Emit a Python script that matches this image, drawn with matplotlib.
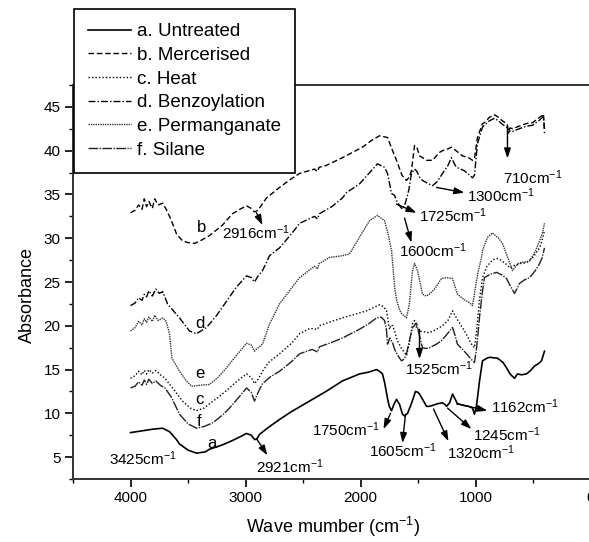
import matplotlib

matplotlib.use("Agg")

import matplotlib.pyplot as plt
from matplotlib.ticker import MultipleLocator

plt.rcParams["font.family"] = ["Liberation Sans", "DejaVu Sans"]
plt.rcParams["mathtext.fontset"] = "custom"
plt.rcParams["mathtext.rm"] = "Liberation Sans"
plt.rcParams["mathtext.it"] = "Liberation Sans:italic"

# --- spectra (wavenumber cm-1, absorbance) ---
wn_a = [4000, 3900, 3800, 3720, 3660, 3600, 3574, 3500, 3426, 3350, 3313, 3200, 3113, 3050,
        2991, 2950, 2921, 2900, 2878, 2800, 2704, 2600, 2443, 2300, 2157, 2009, 1930, 1861,
        1835, 1809, 1790, 1765, 1750, 1730, 1710, 1687, 1660, 1635, 1617, 1591, 1560, 1522,
        1500, 1487, 1460, 1426, 1400, 1374, 1330, 1287, 1265, 1252, 1225, 1200, 1180, 1157,
        1100, 1060, 1026, 1009, 990, 965, 939, 900, 878, 809, 760, 730, 700, 661, 635, 600,
        557, 520, 487, 450, 426, 400]
abs_a = [7.8, 8.0, 8.2, 8.3, 7.9, 7.0, 6.5, 5.8, 5.45, 5.6, 5.9, 6.4, 6.9, 7.3,
         7.7, 7.5, 7.0, 7.1, 7.6, 8.4, 9.3, 10.2, 11.4, 12.5, 13.7, 14.5, 14.7, 15.0,
         14.8, 14.5, 13.5, 11.7, 10.8, 10.3, 11.0, 11.6, 11.0, 9.9, 9.7, 10.0, 11.0, 12.5,
         12.4, 12.2, 11.6, 10.8, 10.8, 10.9, 11.1, 11.2, 11.0, 10.8, 11.2, 12.2, 11.7, 11.1,
         10.9, 10.8, 10.6, 9.9, 11.0, 13.7, 16.0, 16.3, 16.4, 16.3, 15.8, 15.2, 14.5, 14.0, 14.5, 14.4,
         14.5, 14.9, 15.4, 15.7, 16.0, 17.1]

wn_b = [4000, 3960, 3930, 3900, 3880, 3860, 3840, 3810, 3790, 3760, 3720, 3690, 3650, 3600,
        3548, 3500, 3443, 3380, 3313, 3200, 3113, 3050, 2991, 2950, 2922, 2890, 2850, 2817,
        2704, 2600, 2530, 2400, 2374, 2360, 2300, 2157, 1983, 1900, 1835, 1800, 1765, 1730,
        1687, 1640, 1600, 1575, 1557, 1530, 1510, 1487, 1460, 1426, 1374, 1313, 1287, 1240,
        1209, 1150, 1113, 1060, 1026, 1009, 983, 939, 922, 880, 835, 800, 765, 730, 722, 715,
        700, 678, 620, 557, 504, 443, 420, 409, 400]
abs_b = [32.9, 33.2, 33.8, 33.3, 34.5, 33.6, 34.2, 33.4, 34.5, 33.8, 34.0, 33.3, 32.2, 30.5,
         29.7, 29.5, 29.4, 29.8, 30.3, 31.5, 32.8, 33.3, 33.7, 33.4, 33.0, 33.2, 34.0, 34.6,
         35.8, 36.8, 37.4, 37.9, 37.6, 38.1, 38.3, 39.2, 40.4, 41.2, 41.7, 41.6, 41.5, 40.3,
         38.9, 37.2, 36.6, 37.0, 37.7, 40.6, 40.4, 39.4, 39.2, 38.9, 38.9, 39.8, 40.0, 40.2,
         40.4, 39.8, 39.4, 39.2, 38.9, 39.1, 41.5, 43.1, 43.2, 43.8, 44.1, 43.8, 43.4, 43.1, 42.9, 42.2,
         42.6, 42.5, 42.8, 43.1, 43.2, 43.8, 44.0, 44.2, 42.0]

wn_c = [4000, 3960, 3930, 3900, 3880, 3860, 3840, 3810, 3780, 3740, 3700, 3635, 3548, 3480,
        3426, 3360, 3313, 3240, 3165, 3080, 2991, 2950, 2922, 2890, 2852, 2800, 2704, 2600,
        2530, 2440, 2374, 2357, 2250, 2157, 2050, 1948, 1835, 1800, 1774, 1760, 1748, 1735,
        1720, 1704, 1680, 1643, 1620, 1600, 1575, 1548, 1530, 1510, 1487, 1440, 1400, 1340,
        1287, 1240, 1200, 1170, 1139, 1100, 1070, 1040, 1009, 990, 965, 939, 900, 852, 817,
        780, 730, 700, 661, 617, 557, 500, 443, 420, 400]
abs_c = [14.0, 14.3, 14.8, 14.4, 14.9, 14.5, 15.0, 14.6, 14.9, 14.4, 14.0, 12.9, 11.4, 10.6,
         10.3, 10.6, 11.1, 11.8, 12.6, 13.6, 14.5, 14.1, 13.4, 13.9, 14.8, 15.8, 16.8, 18.0,
         19.1, 19.7, 19.6, 20.0, 20.5, 20.9, 21.3, 21.7, 22.4, 22.2, 21.7, 20.6, 19.6, 20.1,
         20.0, 19.4, 18.3, 17.4, 17.0, 16.6, 18.0, 20.2, 20.6, 19.7, 19.4, 19.3, 19.2, 19.6,
         20.0, 20.6, 21.7, 21.0, 20.3, 19.5, 18.8, 18.0, 17.5, 19.5, 23.0, 25.5, 26.8, 27.5, 27.7,
         27.5, 27.0, 26.6, 26.9, 27.1, 27.2, 27.8, 28.9, 29.8, 30.9]

wn_d = [4000, 3960, 3930, 3900, 3880, 3860, 3840, 3810, 3780, 3750, 3720, 3678, 3620, 3574,
        3487, 3426, 3339, 3250, 3165, 3080, 2991, 2950, 2922, 2890, 2852, 2791, 2704, 2600,
        2530, 2400, 2374, 2357, 2250, 2157, 2122, 2009, 1920, 1852, 1791, 1765, 1730, 1704,
        1687, 1660, 1635, 1610, 1580, 1557, 1530, 1513, 1487, 1461, 1420, 1374, 1330, 1287,
        1240, 1209, 1180, 1165, 1096, 1060, 1026, 1009, 983, 939, 880, 835, 800, 765, 730,
        715, 700, 678, 620, 557, 504, 443, 409, 400]
abs_d = [22.3, 22.6, 23.2, 22.9, 23.6, 23.3, 24.0, 23.4, 24.2, 23.7, 23.9, 22.5, 21.6, 20.9,
         19.4, 19.1, 19.8, 21.2, 22.8, 24.4, 25.7, 25.5, 25.0, 25.7, 26.3, 28.0, 28.9, 30.5,
         31.7, 32.5, 32.2, 32.8, 33.6, 34.6, 35.2, 36.2, 37.5, 38.5, 38.1, 37.4, 35.1, 34.9,
         34.3, 33.7, 33.3, 34.0, 35.5, 37.4, 37.9, 37.7, 37.0, 36.6, 36.3, 36.0, 36.5, 37.4,
         38.3, 39.2, 38.4, 38.1, 37.7, 37.3, 36.9, 37.2, 40.8, 42.7, 43.4, 43.7, 43.4, 43.0, 42.7,
         42.0, 42.3, 42.2, 42.5, 42.8, 42.9, 43.5, 43.9, 42.5]

wn_e = [4000, 3960, 3930, 3900, 3880, 3860, 3840, 3810, 3790, 3760, 3720, 3690, 3661, 3640,
        3574, 3520, 3470, 3400, 3313, 3240, 3165, 3080, 2991, 2950, 2922, 2890, 2852, 2791,
        2704, 2600, 2530, 2400, 2374, 2360, 2270, 2157, 2096, 2009, 1922, 1852, 1791, 1760,
        1730, 1704, 1687, 1660, 1643, 1617, 1600, 1575, 1548, 1530, 1513, 1504, 1480, 1461,
        1430, 1400, 1350, 1296, 1250, 1200, 1157, 1100, 1050, 1026, 1005, 980, 948, 939, 896,
        852, 800, 765, 720, 678, 650, 617, 560, 530, 480, 443, 420, 400]
abs_e = [19.4, 19.8, 20.5, 20.1, 20.8, 20.4, 21.0, 20.5, 21.2, 20.6, 20.9, 20.5, 19.1, 16.3,
         14.8, 13.8, 13.1, 13.2, 13.3, 14.1, 15.2, 16.6, 18.0, 17.8, 17.1, 17.5, 17.9, 20.2,
         22.5, 24.3, 25.5, 26.8, 26.5, 27.1, 27.8, 28.0, 28.2, 30.1, 32.0, 32.6, 32.0, 30.5,
         28.6, 24.5, 23.0, 21.8, 21.4, 21.1, 20.9, 22.5, 26.3, 27.1, 26.6, 26.3, 24.8, 23.6,
         23.4, 23.6, 24.3, 25.4, 25.5, 25.4, 23.6, 23.0, 22.6, 22.3, 24.0, 26.0, 27.8, 28.6, 30.1,
         30.6, 30.0, 29.4, 27.8, 26.3, 26.8, 27.2, 27.3, 27.4, 28.5, 29.7, 30.5, 31.7]

wn_f = [4000, 3960, 3930, 3900, 3880, 3860, 3840, 3810, 3780, 3740, 3700, 3643, 3574, 3500,
        3426, 3360, 3287, 3200, 3139, 3060, 2991, 2950, 2922, 2890, 2852, 2780, 2704, 2600,
        2530, 2420, 2374, 2357, 2250, 2157, 2009, 1920, 1861, 1820, 1791, 1775, 1765, 1745,
        1720, 1700, 1660, 1643, 1620, 1600, 1575, 1548, 1513, 1490, 1461, 1430, 1400, 1340,
        1296, 1250, 1200, 1180, 1157, 1120, 1078, 1040, 1009, 990, 965, 939, 922, 870, 817,
        770, 730, 700, 661, 640, 620, 580, 530, 480, 443, 420, 400]
abs_f = [12.9, 13.1, 13.6, 13.2, 13.8, 13.3, 13.9, 13.4, 13.7, 13.2, 12.9, 11.8, 9.9, 8.8,
         8.3, 8.5, 8.9, 9.8, 10.6, 11.8, 12.9, 12.4, 11.4, 12.4, 13.4, 14.2, 14.8, 15.9,
         16.8, 17.3, 17.0, 17.6, 18.1, 18.6, 19.6, 20.3, 20.9, 21.0, 20.6, 19.6, 17.9, 18.6,
         18.0, 17.2, 16.3, 16.0, 16.2, 16.8, 18.3, 19.8, 20.3, 19.0, 17.5, 17.4, 17.5, 17.9,
         18.3, 19.0, 19.8, 19.0, 17.9, 17.4, 16.8, 16.2, 15.8, 17.5, 21.0, 24.0, 25.5, 25.9, 26.1,
         25.8, 25.4, 24.6, 23.7, 24.2, 24.8, 25.2, 25.5, 26.3, 27.1, 27.8, 28.9]

legend_labels = ["a. Untreated", "b. Mercerised", "c. Heat",
                 "d. Benzoylation", "e. Permanganate", "f. Silane"]

# curve letters: (letter, wavenumber, absorbance)
curve_tags = [("b", 3383, 31.2), ("d", 3400, 20.3), ("e", 3400, 14.5),
              ("c", 3400, 11.6), ("f", 3400, 9.1), ("a", 3296, 6.6)]

# peak notes: (text, arrow tail, arrow head, text left edge) in data units
peak_notes = [
    ("2916", (2904, 32.9), (2852, 31.5), (3200, 30.6)),
    ("1725", (1687, 33.9), (1513, 32.9), (1487, 32.6)),
    ("1600", (1617, 32.3), (1557, 29.5), (1661, 28.6)),
    ("1300", (1339, 35.8), (1096, 35.2), (1070, 34.9)),
    ("710", (722, 42.6), (722, 39.1), (765, 36.9)),
    ("1525", (1487, 19.6), (1487, 16.2), (1617, 15.1)),
    ("1162", (1165, 11.1), (896, 10.3), (861, 10.8)),
    ("1245", (1243, 10.6), (1035, 8.2), (1026, 7.6)),
    ("1320", (1365, 10.5), (1235, 6.8), (1252, 5.5)),
    ("1605", (1609, 9.9), (1635, 6.6), (1922, 5.7)),
    ("1750", (1739, 10.0), (1800, 8.2), (2426, 8.1)),
    ("2921", (2904, 7.1), (2809, 5.2), (2913, 3.9)),
    ("3425", None, None, (4191, 4.8)),
]


def render(path="out.png"):
    fig = plt.figure(figsize=(5.89, 5.42), dpi=100)
    ax = fig.add_axes([73 / 589, 63 / 542, 575 / 589, 394 / 542])

    series = [(wn_a, abs_a, "-", 1.2, "black"),
              (wn_b, abs_b, (0, (4, 2)), 1.0, "black"),
              (wn_c, abs_c, (0, (1, 1.5)), 1.0, "black"),
              (wn_d, abs_d, (0, (5, 1.5, 1, 1.5)), 1.0, "black"),
              (wn_e, abs_e, (0, (1, 0.7)), 1.0, "#333333"),
              (wn_f, abs_f, (0, (7, 1, 1, 1)), 1.0, "#222222")]
    for (x, y, ls, lw, col), label in zip(series, legend_labels):
        ax.plot(x, y, linestyle=ls, linewidth=lw, color=col, label=label)

    for letter, x, y in curve_tags:
        ax.text(x, y, letter, fontsize=12, ha="center", va="center")

    for num, tail, head, pos in peak_notes:
        ax.text(pos[0], pos[1], num + r"cm$^{-1}$", fontsize=11, ha="left", va="center")
        if tail is not None:
            ax.annotate("", xy=head, xytext=tail,
                        arrowprops=dict(arrowstyle="-|>,head_length=0.6,head_width=0.2",
                                        color="black", lw=1.0, shrinkA=0, shrinkB=0))

    ax.set_xlim(4500, -500)
    ax.set_ylim(2.5, 47.5)
    ax.xaxis.set_major_locator(MultipleLocator(1000))
    ax.xaxis.set_minor_locator(MultipleLocator(500))
    ax.yaxis.set_major_locator(MultipleLocator(5))
    ax.yaxis.set_minor_locator(MultipleLocator(2.5))
    ax.tick_params(which="major", direction="out", length=6, width=1.2, labelsize=11, pad=3)
    ax.tick_params(which="minor", direction="out", length=3, width=1.0)
    for side in ("left", "bottom", "top"):
        ax.spines[side].set_linewidth(1.4)
        ax.spines[side].set_color("#333333")

    ax.set_xlabel(r"Wave mumber (cm$^{-1}$)", fontsize=13)
    ax.set_ylabel("Absorbance", fontsize=13)
    ax.xaxis.set_label_coords((333 - 73) / 575, (479 - 515) / 394)
    ax.yaxis.set_label_coords((36 - 73) / 575, (479 - 295) / 394)

    leg = ax.legend(loc="upper left", bbox_to_anchor=(74 / 589, 533 / 542),
                    bbox_transform=fig.transFigure, borderaxespad=0, fontsize=13.5,
                    frameon=True, fancybox=False, framealpha=1, edgecolor="black",
                    handlelength=2.3, handletextpad=0.3, borderpad=0.75, labelspacing=0.35)
    leg.get_frame().set_linewidth(1.2)
    leg.set_zorder(10)

    fig.savefig(path, dpi=100)
    plt.close(fig)
    return path


if __name__ == "__main__":
    render()
